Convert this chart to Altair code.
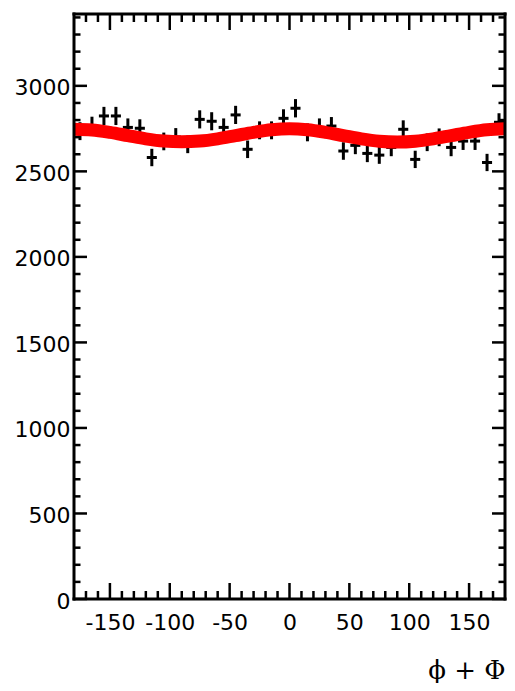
import altair as alt
import pandas as pd

# ---- data ----
bin_centers = [-175, -165, -155, -145, -135, -125, -115, -105, -95, -85, -75, -65,
               -55, -45, -35, -25, -15, -5, 5, 15, 25, 35, 45, 55,
               65, 75, 85, 95, 105, 115, 125, 135, 145, 155, 165, 175]
counts = [2735, 2767, 2824, 2824, 2757, 2752, 2581, 2675, 2701, 2658, 2804, 2793,
          2757, 2830, 2629, 2740, 2740, 2810, 2869, 2728, 2757, 2765, 2619, 2652,
          2605, 2595, 2640, 2746, 2570, 2670, 2699, 2640, 2677, 2677, 2552, 2787]
bin_half = 4.2

fit_x = [-180, -165, -150, -135, -120, -105, -90, -75, -60, -45, -30, -15, 0,
         15, 30, 45, 60, 75, 90, 105, 120, 135, 150, 165, 180]
fit_y = [2746, 2742, 2728, 2709, 2690, 2677, 2673, 2677, 2690, 2709, 2728, 2743, 2749,
         2743, 2728, 2709, 2690, 2676, 2671, 2676, 2690, 2709, 2728, 2743, 2749]

x_major = [-150, -100, -50, 0, 50, 100, 150]
x_minor = [-170, -160, -140, -130, -120, -110, -90, -80, -70, -60, -40, -30, -20, -10,
           10, 20, 30, 40, 60, 70, 80, 90, 110, 120, 130, 140, 160, 170]
y_major = [0, 500, 1000, 1500, 2000, 2500, 3000]
y_minor = [100, 200, 300, 400, 600, 700, 800, 900, 1100, 1200, 1300, 1400, 1600, 1700,
           1800, 1900, 2100, 2200, 2300, 2400, 2600, 2700, 2800, 2900, 3100, 3200, 3300, 3400]

x_domain = [-180, 180]
y_domain = [0, 3420]

W, H = 431, 585

pts = pd.DataFrame({"x": bin_centers, "n": counts})
fit = pd.DataFrame({"x": fit_x, "f": fit_y})
xmaj = pd.DataFrame({"t": x_major})
xmin = pd.DataFrame({"t": x_minor})
ymaj = pd.DataFrame({"t": y_major})
ymin = pd.DataFrame({"t": y_minor})
one = pd.DataFrame({"a": [0]})

xs = alt.Scale(domain=x_domain, nice=False, zero=False)
ys = alt.Scale(domain=y_domain, nice=False, zero=False)

x_axis = alt.Axis(values=x_major, labelExpr="'' + datum.value", ticks=False, domain=False,
                  grid=False, labelFont="DejaVu Sans", labelFontSize=22, labelColor="black",
                  labelPadding=13, title="\u03d5 + \u03a6", titleFont="DejaVu Serif",
                  titleFontSize=26, titleFontWeight="normal", titleColor="black",
                  titleAlign="right", titleX=W, titleY=79, titleBaseline="alphabetic")
y_axis = alt.Axis(values=y_major, labelExpr="'' + datum.value", ticks=False, domain=False,
                  grid=False, labelFont="DejaVu Sans", labelFontSize=22, labelColor="black",
                  labelPadding=4, labelOffset=2, title=None)

def X(field):
    return alt.X(field, scale=xs, axis=x_axis)

def Y(field):
    return alt.Y(field, scale=ys, axis=y_axis)

base = alt.Chart(pts).transform_calculate(
    lo="datum.n - sqrt(datum.n)", hi="datum.n + sqrt(datum.n)",
    xl=f"datum.x - {bin_half}", xr=f"datum.x + {bin_half}")

vbars = base.mark_rule(color="black", strokeWidth=3).encode(
    x=X("x:Q"), y=Y("lo:Q"), y2="hi:Q")
hbars = base.mark_rule(color="black", strokeWidth=3).encode(
    x=X("xl:Q"), x2="xr:Q", y=Y("n:Q"))

curve = alt.Chart(fit).mark_line(color="#ff0000", strokeWidth=13, interpolate="monotone",
                                 strokeCap="butt").encode(
    x=X("x:Q"), y=Y("f:Q"))

tick_style = dict(color="black", strokeWidth=2.5)

def yticks(df, length):
    left = alt.Chart(df).mark_rule(**tick_style).encode(
        y=Y("t:Q"), x=alt.value(0), x2=alt.value(length))
    right = alt.Chart(df).mark_rule(**tick_style).encode(
        y=Y("t:Q"), x=alt.value(W), x2=alt.value(W - length))
    return [left, right]

def xticks(df, length):
    bottom = alt.Chart(df).mark_rule(**tick_style).encode(
        x=X("t:Q"), y=alt.value(H), y2=alt.value(H - length))
    top = alt.Chart(df).mark_rule(**tick_style).encode(
        x=X("t:Q"), y=alt.value(0), y2=alt.value(length))
    return [bottom, top]

frame_style = dict(color="black", strokeWidth=3, strokeCap="square")
frame = [
    alt.Chart(one).mark_rule(**frame_style).encode(x=alt.value(0), y=alt.value(0), y2=alt.value(H)),
    alt.Chart(one).mark_rule(**frame_style).encode(x=alt.value(W), y=alt.value(0), y2=alt.value(H)),
    alt.Chart(one).mark_rule(**frame_style).encode(y=alt.value(0), x=alt.value(0), x2=alt.value(W)),
    alt.Chart(one).mark_rule(**frame_style).encode(y=alt.value(H), x=alt.value(0), x2=alt.value(W)),
]

layers = [vbars, hbars, curve] + yticks(ymaj, 13) + yticks(ymin, 6.5) + \
    xticks(xmaj, 16) + xticks(xmin, 8) + frame

chart = alt.layer(*layers).properties(
    width=W, height=H,
    autosize=alt.AutoSizeParams(type="none"),
    padding={"left": 66, "top": 6, "right": 2, "bottom": 84},
    background="white",
).configure_view(stroke=None)

chart.save("out.html", embed_options={"renderer": "svg", "actions": False})
